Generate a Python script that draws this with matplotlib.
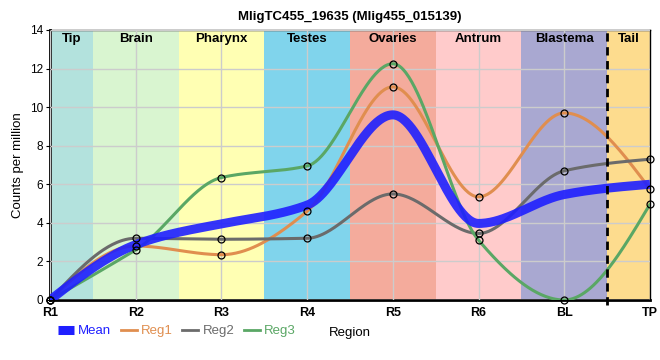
import numpy as np
import matplotlib
matplotlib.use("Agg")
import matplotlib.pyplot as plt
from matplotlib.lines import Line2D

plt.rcParams["font.family"] = ["Liberation Sans", "DejaVu Sans"]

# values
regions = ["R1", "R2", "R3", "R4", "R5", "R6", "BL", "TP"]
band_names = ["Tip", "Brain", "Pharynx", "Testes", "Ovaries", "Antrum", "Blastema", "Tail"]
band_colors = ["#b3e2dd", "#d9f5d0", "#ffffb3", "#80d4ec", "#f4ab9c", "#ffcbcb", "#a9a8d1", "#fddc8e"]

mean_vals = [0.0, 2.87, 3.95, 4.92, 9.6, 3.97, 5.47, 6.0]
reg1 = [0.0, 2.8, 2.35, 4.6, 11.05, 5.35, 9.7, 5.75]
reg2 = [0.0, 3.2, 3.15, 3.2, 5.5, 3.45, 6.7, 7.3]
reg3 = [0.0, 2.6, 6.35, 6.95, 12.25, 3.1, 0.0, 4.97]


def monotone_curve(y, n=60, k=0.85):
    # monotone cubic interpolation (like d3 curveMonotoneX), tangents a bit flattened
    y = np.asarray(y, float)
    x = np.arange(len(y), dtype=float)
    h = np.diff(x)
    s = np.diff(y) / h
    m = np.zeros(len(y))
    for i in range(1, len(y) - 1):
        s0, s1 = s[i - 1], s[i]
        p = (s0 * h[i] + s1 * h[i - 1]) / (h[i - 1] + h[i])
        m[i] = k * (np.sign(s0) + np.sign(s1)) * min(abs(s0), abs(s1), 0.5 * abs(p))
    m[0] = (3 * s[0] - m[1]) / 2
    m[-1] = (3 * s[-1] - m[-2]) / 2
    xs, ys = [], []
    for i in range(len(y) - 1):
        t = np.linspace(0, 1, n)
        h00 = 2 * t**3 - 3 * t**2 + 1
        h10 = t**3 - 2 * t**2 + t
        h01 = -2 * t**3 + 3 * t**2
        h11 = t**3 - t**2
        xs.append(x[i] + t * h[i])
        ys.append(h00 * y[i] + h10 * h[i] * m[i] + h01 * y[i + 1] + h11 * h[i] * m[i + 1])
    return np.concatenate(xs), np.concatenate(ys)


fig = plt.figure(figsize=(6.6, 3.6), dpi=100)
ax = fig.add_axes([50 / 660, 60 / 360, 600 / 660, 270 / 360])

# background bands
for i, (name, col) in enumerate(zip(band_names, band_colors)):
    lo = max(i - 0.5, 0)
    hi = min(i + 0.5, len(regions) - 1)
    ax.axvspan(lo, hi, color=col, zorder=0, lw=0)
    ax.text((lo + hi) / 2, 13.85, name, ha="center", va="top",
            fontsize=9.5, fontweight="bold", zorder=5)

ax.grid(True, color="#cccccc", lw=1, zorder=1)
ax.set_axisbelow(False)

x = np.arange(len(regions))
series = [(reg1, "#e08e4f", "Reg1"), (reg2, "#6b6b6b", "Reg2"), (reg3, "#5aa765", "Reg3")]
for vals, col, lab in series:
    cx, cy = monotone_curve(vals)
    ax.plot(cx, cy, color=col, lw=2.2, zorder=3, solid_capstyle="round")

cx, cy = monotone_curve(mean_vals)
ax.plot(cx, cy, color="#1f1fff", lw=6.5, alpha=0.9, zorder=4, solid_capstyle="butt")

for vals, col, lab in series:
    ax.plot(x, vals, ls="none", marker="o", ms=5, mfc="none", mec="black",
            mew=0.9, zorder=6, clip_on=False)

ax.axvline(6.5, ymin=-0.02, ymax=1, color="black", lw=2, ls=(0, (3, 2)),
           zorder=7, clip_on=False)

ax.set_xlim(0, 7)
ax.set_ylim(0, 14)
ax.set_xticks(x)
ax.set_xticklabels(regions, fontsize=9, fontweight="bold")
ax.set_yticks(range(0, 15, 2))
ax.tick_params(axis="y", labelsize=8.5, length=3, pad=2)
ax.tick_params(axis="x", length=0, pad=5)

for side in ["left", "bottom"]:
    ax.spines[side].set_linewidth(2)
for side in ["top", "right"]:
    ax.spines[side].set_linewidth(1)

ax.set_ylabel("Counts per million", fontsize=9.5)
ax.set_xlabel("Region", fontsize=9.5, labelpad=6)
ax.set_title("MligTC455_19635 (Mlig455_015139)", fontsize=9.5, fontweight="bold", pad=7)

handles = [Line2D([], [], color="#1f1fff", lw=6.5, solid_capstyle="butt"),
           Line2D([], [], color="#e08e4f", lw=2),
           Line2D([], [], color="#6b6b6b", lw=2),
           Line2D([], [], color="#5aa765", lw=2)]
labels = ["Mean", "Reg1", "Reg2", "Reg3"]
leg = fig.legend(handles, labels, loc="center left", bbox_to_anchor=(46 / 660, 1 - 331 / 360),
                 ncol=4, frameon=False, handlelength=1.2, columnspacing=0.7,
                 handletextpad=0.35, fontsize=9.5)
for txt, h in zip(leg.get_texts(), handles):
    txt.set_color(h.get_color())

fig.savefig("out.png", dpi=100)
